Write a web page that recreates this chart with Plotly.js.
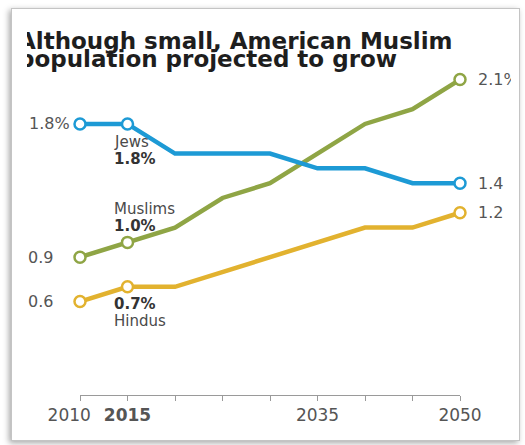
<!DOCTYPE html>
<html>
<head>
<meta charset="utf-8">
<script src="https://cdn.plot.ly/plotly-3.0.1.min.js"></script>
<style>
  html, body { margin: 0; padding: 0; background: #ffffff; width: 525px; height: 445px; overflow: hidden; }
  #frame { position: absolute; left: 11px; top: 8px; width: 507px; height: 431px;
           border: 1px solid #c4c4c4; box-shadow: -2px 2px 6px rgba(0,0,0,0.35); background: #fff; }
  #clip { position: absolute; left: 27px; top: 9px; width: 484px; height: 430px; overflow: hidden; }
  #plot { position: absolute; left: -27px; top: -9px; width: 525px; height: 445px; }
</style>
</head>
<body>
<div id="frame"></div>
<div id="clip"><div id="plot"></div></div>
<script>
// ---- data ----
const years   = [2010, 2015, 2020, 2025, 2030, 2035, 2040, 2045, 2050];
const jews    = [1.8, 1.8, 1.6, 1.6, 1.6, 1.5, 1.5, 1.4, 1.4];
const muslims = [0.9, 1.0, 1.1, 1.3, 1.4, 1.6, 1.8, 1.9, 2.1];
const hindus  = [0.6, 0.7, 0.7, 0.8, 0.9, 1.0, 1.1, 1.1, 1.2];
const tickText = ['2010\u00a0\u00a0\u00a0\u00a0', '<b>2015</b>', '', '', '', '2035', '', '', '2050'];
const markedIdx = [0, 1, 8];
const titleLines = ['Although small, American Muslim', 'population projected to grow'];

const colors = { jews: '#1d9ad5', muslims: '#8fa545', hindus: '#e2b22f' };
const FONT = 'DejaVu Sans, sans-serif';

function lineTrace(y, c) {
  return { x: years, y: y, mode: 'lines', line: { color: c, width: 4.5 },
           hoverinfo: 'skip', cliponaxis: false, showlegend: false };
}
function markTrace(y, c) {
  return { x: markedIdx.map(i => years[i]), y: markedIdx.map(i => y[i]), mode: 'markers',
           marker: { size: 11, color: '#ffffff', line: { color: c, width: 2.5 } },
           hoverinfo: 'skip', cliponaxis: false, showlegend: false };
}

const data = [
  lineTrace(hindus, colors.hindus), lineTrace(muslims, colors.muslims), lineTrace(jews, colors.jews),
  markTrace(hindus, colors.hindus), markTrace(muslims, colors.muslims), markTrace(jews, colors.jews)
];

const last = years.length - 1;
const valFont = { family: FONT, size: 16, color: '#555' };
const labFont = { family: FONT, size: 15, color: '#4a4a4a' };
const boldFont = { family: FONT, size: 15, color: '#333333', weight: 'bold' };
function ann(x, y, text, font, xanchor, xshift, yshift) {
  return { x: x, y: y, xref: 'x', yref: 'y', text: text, showarrow: false, font: font,
           xanchor: xanchor, yanchor: 'middle', xshift: xshift, yshift: yshift };
}
const annotations = [
  // left values
  ann(years[0], jews[0], jews[0].toFixed(1) + '%', valFont, 'left', -53, 0),
  ann(years[0], muslims[0], muslims[0].toFixed(1), valFont, 'left', -54, 0),
  ann(years[0], hindus[0], hindus[0].toFixed(1), valFont, 'left', -54, 0),
  // right values
  ann(years[last], muslims[last], muslims[last].toFixed(1) + '%', valFont, 'left', 16, 0),
  ann(years[last], jews[last], jews[last].toFixed(1), valFont, 'left', 16, 0),
  ann(years[last], hindus[last], hindus[last].toFixed(1), valFont, 'left', 16, 0),
  // series labels at 2015
  ann(years[1], jews[1], 'Jews', labFont, 'left', -16, -18),
  ann(years[1], jews[1], jews[1].toFixed(1) + '%', boldFont, 'left', -16, -35),
  ann(years[1], muslims[1], 'Muslims', labFont, 'left', -16, 33),
  ann(years[1], muslims[1], muslims[1].toFixed(1) + '%', boldFont, 'left', -16, 16),
  ann(years[1], hindus[1], hindus[1].toFixed(1) + '%', boldFont, 'left', -16, -17),
  ann(years[1], hindus[1], 'Hindus', labFont, 'left', -16, -34),
  // title (two tightly spaced lines)
  { xref: 'paper', yref: 'paper', x: -0.168, y: 1.058, xanchor: 'left', yanchor: 'middle', showarrow: false,
    text: '<b>' + titleLines[0] + '</b>', font: { family: FONT, size: 23, color: '#1e1e1e' } },
  { xref: 'paper', yref: 'paper', x: -0.168, y: 1.002, xanchor: 'left', yanchor: 'middle', showarrow: false,
    text: '<b>' + titleLines[1] + '</b>', font: { family: FONT, size: 23, color: '#1e1e1e' } }
];

const layout = {
  width: 525, height: 445,
  margin: { l: 80, r: 65, t: 60, b: 50 },
  paper_bgcolor: 'rgba(0,0,0,0)', plot_bgcolor: 'rgba(0,0,0,0)',
  xaxis: { range: [2010, 2050], showgrid: false, zeroline: false, showline: true, linecolor: '#9a9a9a', linewidth: 1,
           ticks: 'outside', ticklen: 5, tickcolor: '#9a9a9a', tickvals: years, ticktext: tickText, tickangle: 0,
           tickfont: { family: FONT, size: 17, color: '#555' }, fixedrange: true, automargin: false },
  yaxis: { range: [-0.031, 2.232], visible: false, fixedrange: true },
  annotations: annotations,
  showlegend: false
};

Plotly.newPlot('plot', data, layout, { displayModeBar: false, staticPlot: true });
</script>
</body>
</html>
